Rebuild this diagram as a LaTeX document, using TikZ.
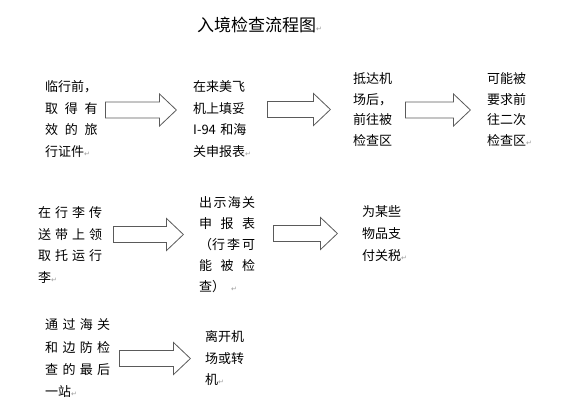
\documentclass[tikz,border=0pt]{standalone}
\usepackage{fontspec}
\usetikzlibrary{shapes.arrows}
\newfontfamily\cjkfont{Noto Sans CJK SC}
\newfontfamily\markfont{DejaVu Sans}
\definecolor{ArrowGray}{HTML}{5A5A5A}
\definecolor{MarkGray}{HTML}{9A9A9A}
\newcommand{\parmark}{\rlap{\textcolor{MarkGray}{\markfont\fontsize{7}{7}\selectfont ↵}}}
\tikzset{
  steptext/.style={font=\cjkfont\fontsize{13}{21.5}\selectfont,align=left,
    inner sep=0pt,anchor=base west,text width=#1},
  bigarrow/.style={single arrow,draw=ArrowGray,fill=white,line width=.8pt,
    minimum height=#1,minimum width=32,single arrow head extend=8,
    single arrow tip angle=87,inner xsep=0pt,inner ysep=7.6pt,anchor=tail},
  titletext/.style={font=\cjkfont\fontsize{17}{17}\selectfont,inner sep=0pt,anchor=base west}
}

\begin{document}
\begin{tikzpicture}[x=1pt,y=-1pt]
  \useasboundingbox (0,0) rectangle (564,405);
  \node[titletext] (title) at (197,31) {入境检查流程图\parmark};
  \node[steptext=52.5] (prep) at (45,91.7)
    {临行前，\\取\hfill 得\hfill 有\\效\hfill 的\hfill 旅\\行证件\parmark};
  \node[steptext=56] (plane) at (193,91.7)
    {在来美飞\\机上填妥\\I-94 和海\\关申报表\parmark};
  \node[steptext=41,font=\cjkfont\fontsize{13}{20.5}\selectfont] (arrive) at (353,83.7)
    {抵达机\\场后，\\前往被\\检查区};
  \node[steptext=41,font=\cjkfont\fontsize{13}{20.5}\selectfont] (second) at (487,83.7)
    {可能被\\要求前\\往二次\\检查区\parmark};
  \node[steptext=64] (bags) at (38,217.7)
    {在\hfill 行\hfill 李\hfill 传\\送\hfill 带\hfill 上\hfill 领\\取\hfill 托\hfill 运\hfill 行\\李\parmark};
  \node[steptext=56,font=\cjkfont\fontsize{13}{21}\selectfont] (customs) at (199,207.7)
    {出\hfill 示\hfill 海\hfill 关\\申\hfill 报\hfill 表\\（行\hfill 李\hfill 可\\能\hfill 被\hfill 检\\查）\hspace{6pt}\parmark};
  \node[steptext=41,font=\cjkfont\fontsize{13}{22}\selectfont] (duty) at (362,216.7)
    {为某些\\物品支\\付关税\parmark};
  \node[steptext=65,font=\cjkfont\fontsize{13}{22.3}\selectfont] (final) at (45,329.7)
    {通\hfill 过\hfill 海\hfill 关\\和\hfill 边\hfill 防\hfill 检\\查\hfill 的\hfill 最\hfill 后\\一站\parmark};
  \node[steptext=42] (leave) at (205,341.7)
    {离开机\\场或转\\机\parmark};
  \node[bigarrow=71] (prep-plane) at (105,110) {};
  \node[bigarrow=63] (plane-arrive) at (267,109.5) {};
  \node[bigarrow=65] (arrive-second) at (405,110) {};
  \node[bigarrow=70] (bags-customs) at (113,234.5) {};
  \node[bigarrow=64] (customs-duty) at (273,233.5) {};
  \node[bigarrow=71] (final-leave) at (119,358.5) {};
\end{tikzpicture}
\end{document}
